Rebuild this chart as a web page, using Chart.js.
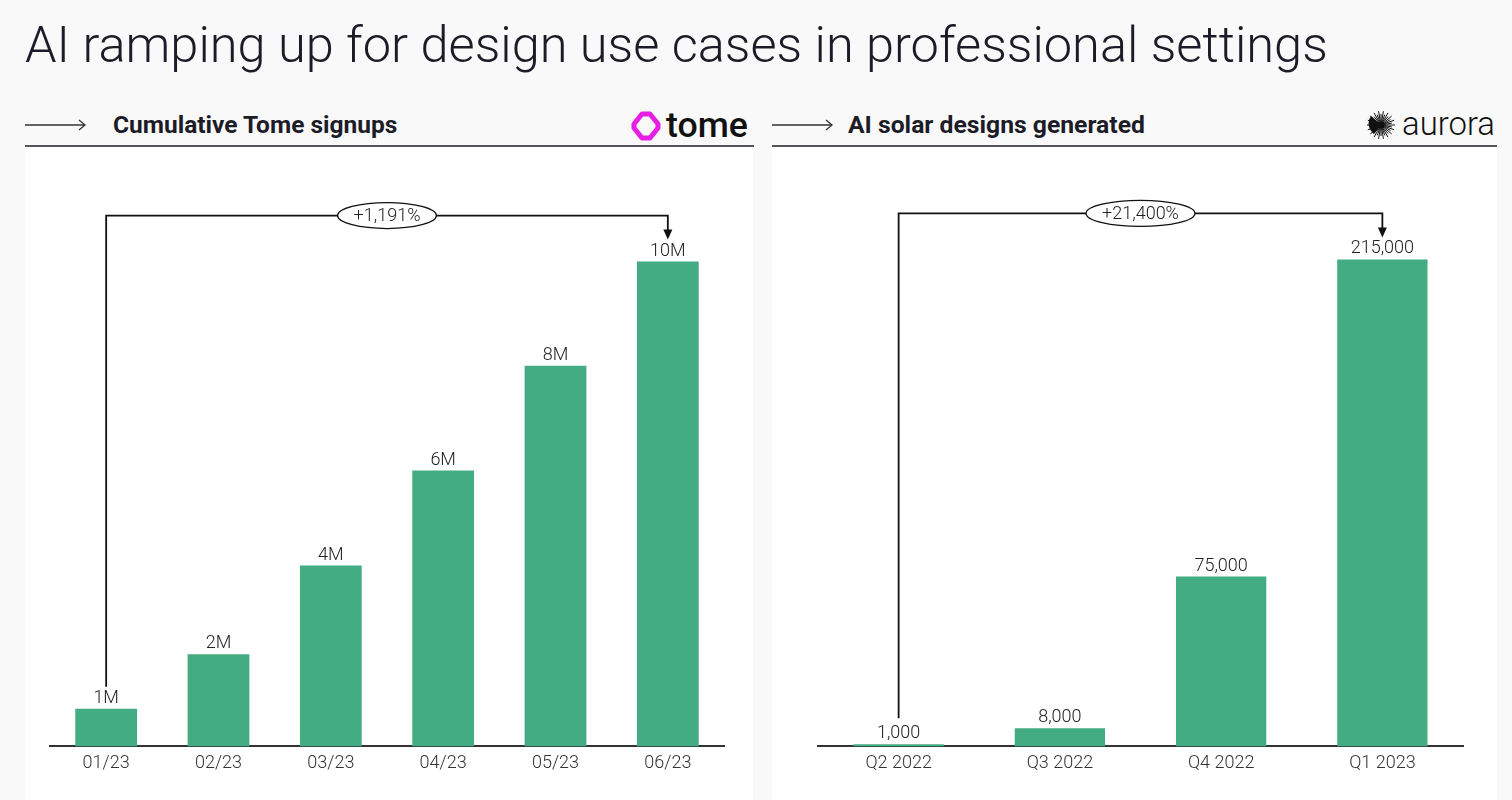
<!DOCTYPE html>
<html>
<head>
<meta charset="utf-8">
<script src="https://cdn.jsdelivr.net/npm/chart.js@4.4.1/dist/chart.umd.min.js"></script>
<style>
  html, body { margin:0; padding:0; }
  body { width:1512px; height:800px; background:#f9f9f9; position:relative; overflow:hidden; font-family: Roboto, "Liberation Sans", sans-serif; color:#1a1a24; }
  .abs { position:absolute; white-space:nowrap; }
  #title { left:25px; top:15px; font-weight:300; font-size:50px; line-height:60px; color:#1c1c28; }
  .hdr { font-weight:700; font-size:21px; line-height:26px; top:112px; color:#1c1c28; }
  .rule { position:absolute; height:2px; background:#55555d; top:145px; }
  .panel { position:absolute; top:147px; height:653px; background:#ffffff; }
  canvas { display:block; }
</style>
</head>
<body>
<div id="title" class="abs" data-w="1303">AI ramping up for design use cases in professional settings</div>

<svg class="abs" style="left:24px;top:118px" width="64" height="14">
  <line x1="1" y1="7" x2="61" y2="7" stroke="#333" stroke-width="1.3"/>
  <polyline points="55,2 61,7 55,12" fill="none" stroke="#333" stroke-width="1.3"/>
</svg>
<div class="abs hdr" style="left:113px" data-w="285">Cumulative Tome signups</div>

<svg class="abs" style="left:630px;top:110px" width="32" height="32">
  <path d="M12 4 L20 4 L28 14 L28 18 L20 28 L12 28 L4 18 L4 14 Z" fill="none" stroke="#e61ee6" stroke-width="5" stroke-linejoin="round"/>
</svg>
<div class="abs" style="left:666px;top:105px;font-weight:500;font-size:34px;line-height:40px;color:#111" data-w="82">tome</div>

<svg class="abs" style="left:771px;top:118px" width="64" height="14">
  <line x1="1" y1="7" x2="61" y2="7" stroke="#333" stroke-width="1.3"/>
  <polyline points="55,2 61,7 55,12" fill="none" stroke="#333" stroke-width="1.3"/>
</svg>
<div class="abs hdr" style="left:848px" data-w="297">AI solar designs generated</div>

<svg id="sun" class="abs" style="left:1366px;top:110px" width="30" height="30"></svg>
<div class="abs" style="left:1402px;top:106px;font-weight:300;font-size:30px;line-height:36px;color:#111" data-w="93">aurora</div>

<div class="rule" style="left:25px;width:729px"></div>
<div class="rule" style="left:772px;width:725px"></div>

<div class="panel" style="left:25px;width:728px"><canvas id="c1" width="728" height="653"></canvas></div>
<div class="panel" style="left:772px;width:725px"><canvas id="c2" width="725" height="653"></canvas></div>

<script>
// ---- data ----
const tomeMonths = ['01/23', '02/23', '03/23', '04/23', '05/23', '06/23'];
const tomeSignups = [775000, 1900000, 3730000, 5690000, 7850000, 10000000];
const tomeSignupLabels = ['1M', '2M', '4M', '6M', '8M', '10M'];
const tomeGrowth = '+1,191%';

const auroraQuarters = ['Q2 2022', 'Q3 2022', 'Q4 2022', 'Q1 2023'];
const auroraDesigns = [1000, 8000, 75000, 215000];
const auroraDesignLabels = ['1,000', '8,000', '75,000', '215,000'];
const auroraGrowth = '+21,400%';

// ---- fit header texts to reference widths ----
const mctx = document.createElement('canvas').getContext('2d');
document.querySelectorAll('[data-w]').forEach(el => {
  const cs = getComputedStyle(el);
  const size = parseFloat(cs.fontSize);
  mctx.font = cs.fontWeight + ' ' + size + 'px ' + cs.fontFamily;
  const w = mctx.measureText(el.textContent).width;
  const target = parseFloat(el.dataset.w);
  if (w > 0) el.style.fontSize = (size * target / w).toFixed(2) + 'px';
});

// ---- aurora sun icon ----
(function(){
  const svg = document.getElementById('sun');
  let s = '';
  for (let i = 0; i < 36; i++) {
    const a = i * Math.PI * 2 / 36;
    const r1 = 4, r2 = (i % 2 ? 11 : 14);
    s += `<line x1="${15 + r1*Math.cos(a)}" y1="${15 + r1*Math.sin(a)}" x2="${15 + r2*Math.cos(a)}" y2="${15 + r2*Math.sin(a)}" stroke="#111" stroke-width="1"/>`;
  }
  s += '<path d="M15 15 L5 6 A13 13 0 0 0 8 24 Z" fill="#111"/>';
  s += '<circle cx="15" cy="15" r="4" fill="#111"/>';
  svg.innerHTML = s;
})();

// ---- plugins ----
const FONT = 'Roboto, "Liberation Sans", sans-serif';
const valueLabelPlugin = {
  id: 'valueLabels',
  afterDatasetsDraw(chart, args, opts) {
    const ctx = chart.ctx;
    const meta = chart.getDatasetMeta(0);
    ctx.save();
    ctx.font = '300 18px ' + FONT;
    ctx.fillStyle = '#222';
    ctx.textAlign = 'center';
    ctx.textBaseline = 'alphabetic';
    meta.data.forEach((bar, i) => {
      ctx.fillText(opts.labels[i], bar.x, bar.y - 6);
    });
    ctx.restore();
  }
};
const bracketPlugin = {
  id: 'bracket',
  afterDatasetsDraw(chart, args, opts) {
    const ctx = chart.ctx;
    const meta = chart.getDatasetMeta(0);
    const first = meta.data[0], last = meta.data[meta.data.length - 1];
    const yLine = last.y - 46, tip = last.y - 22, yStart = first.y - opts.startGap;
    ctx.save();
    ctx.strokeStyle = '#111';
    ctx.fillStyle = '#111';
    ctx.lineWidth = 1.8;
    ctx.beginPath();
    ctx.moveTo(first.x, yStart);
    ctx.lineTo(first.x, yLine);
    ctx.lineTo(last.x, yLine);
    ctx.lineTo(last.x, tip - 8);
    ctx.stroke();
    ctx.beginPath();
    ctx.moveTo(last.x - 4.5, tip - 10);
    ctx.lineTo(last.x + 4.5, tip - 10);
    ctx.lineTo(last.x, tip);
    ctx.closePath();
    ctx.fill();
    const cx = (first.x + last.x) / 2;
    ctx.font = '300 18px ' + FONT;
    const tw = ctx.measureText(opts.text).width;
    ctx.beginPath();
    ctx.ellipse(cx, yLine, tw / 2 + 16, 13, 0, 0, Math.PI * 2);
    ctx.fillStyle = '#fff';
    ctx.fill();
    ctx.lineWidth = 1.3;
    ctx.stroke();
    ctx.fillStyle = '#222';
    ctx.textAlign = 'center';
    ctx.textBaseline = 'middle';
    ctx.fillText(opts.text, cx, yLine + 1);
    ctx.restore();
  }
};

function makeChart(id, labels, values, valueLabels, growth, yMax, pad, barPct, startGap) {
  return new Chart(document.getElementById(id), {
    type: 'bar',
    data: { labels, datasets: [{ data: values, backgroundColor: '#43ac82', borderWidth: 0, barPercentage: barPct, categoryPercentage: 1 }] },
    options: {
      responsive: false,
      devicePixelRatio: 1,
      animation: false,
      layout: { padding: pad },
      plugins: {
        legend: { display: false },
        tooltip: { enabled: false },
        valueLabels: { labels: valueLabels },
        bracket: { text: growth, startGap }
      },
      scales: {
        x: {
          grid: { display: false, drawTicks: false },
          border: { display: true, color: '#333', width: 2 },
          ticks: { color: '#333', font: { family: FONT, size: 18, weight: 300 }, padding: 6 }
        },
        y: { display: false, min: 0, max: yMax }
      }
    },
    plugins: [valueLabelPlugin, bracketPlugin]
  });
}

makeChart('c1', tomeMonths, tomeSignups, tomeSignupLabels, tomeGrowth, 11950000,
  { left: 25, right: 29, top: 20, bottom: 20 }, 0.55, 22);
makeChart('c2', auroraQuarters, auroraDesigns, auroraDesignLabels, auroraGrowth, 255800,
  { left: 46, right: 34, top: 20, bottom: 20 }, 0.56, 26);
</script>
</body>
</html>
